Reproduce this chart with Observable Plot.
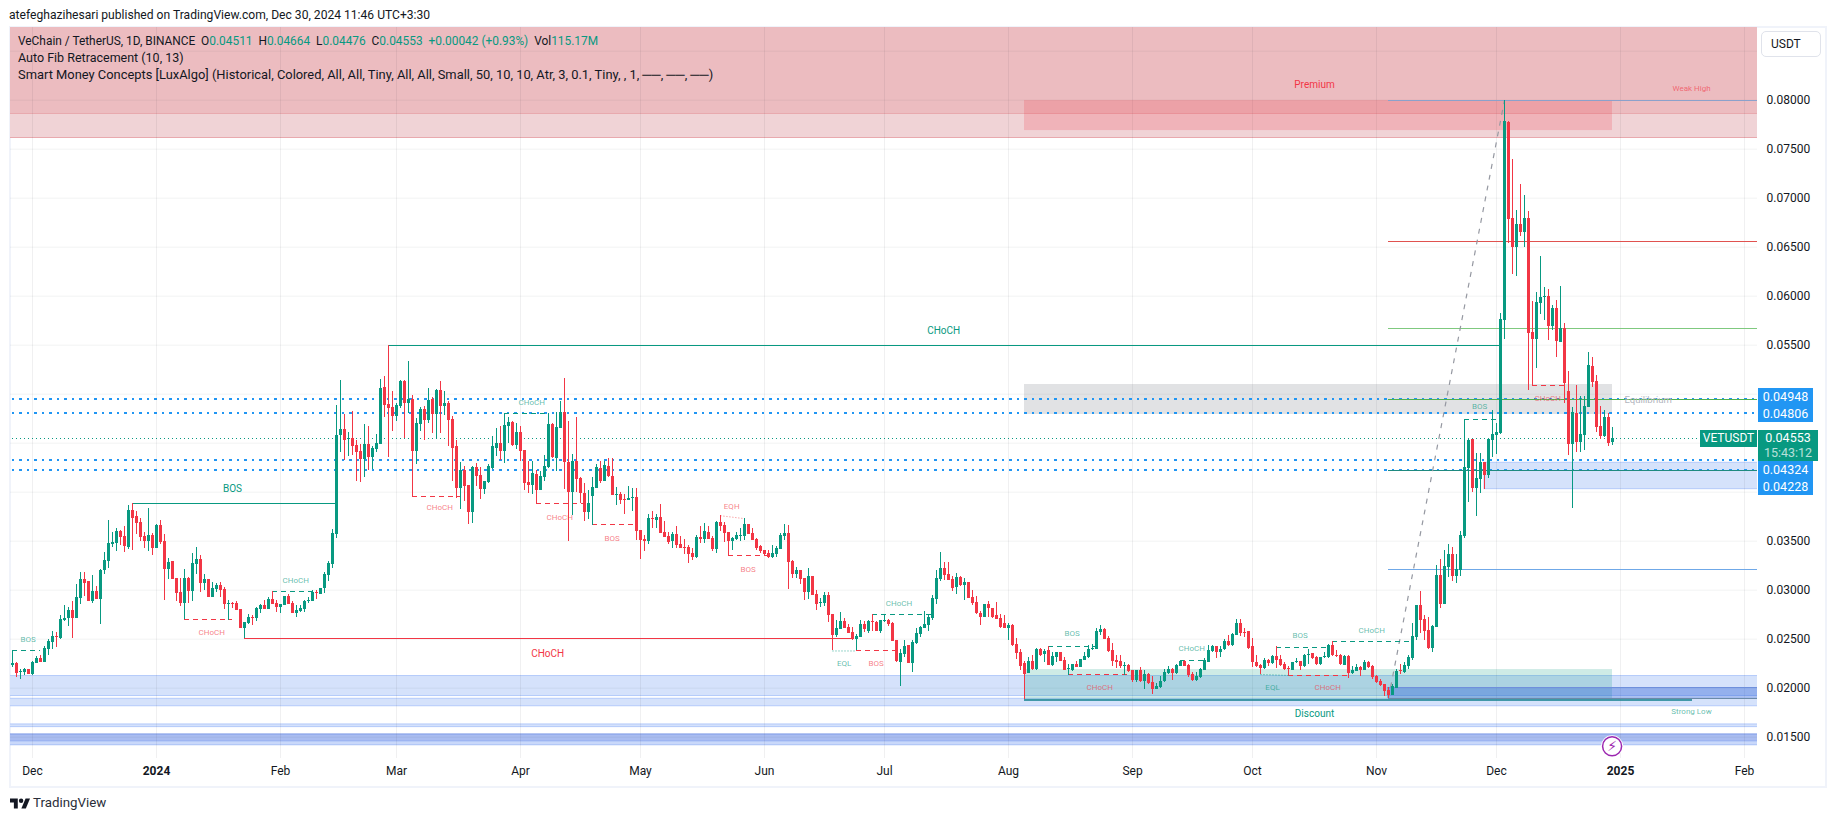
<!DOCTYPE html>
<html>
<head>
<meta charset="utf-8">
<script src="https://cdn.jsdelivr.net/npm/d3@7"></script>
<script src="https://cdn.jsdelivr.net/npm/@observablehq/plot@0.6"></script>
<style>
html,body{margin:0;padding:0;background:#fff;width:1835px;height:821px;overflow:hidden;font-family:Roboto,sans-serif;color:#131722}
#frame{position:absolute;left:9px;top:26px;width:1814px;height:758px;border:2px solid #f0f3fa;box-sizing:content-box}
#chart{position:absolute;left:0;top:0}
.t{position:absolute;white-space:pre;font-size:12.5px;line-height:16px}
.g{color:#089981}
.tag{position:absolute;left:1758px;color:#fff;font-size:12.5px;text-align:center;line-height:17px}
</style>
</head>
<body>
<div id="frame"></div>
<div id="chart"></div>
<div class="t" style="left:9px;top:7px;font-size:12.1px">atefeghazihesari published on TradingView.com, Dec 30, 2024 11:46 UTC+3:30</div>
<div class="t" style="left:18px;top:33px;font-size:11.9px">VeChain / TetherUS, 1D, BINANCE  O<span class="g">0.04511</span>  H<span class="g">0.04664</span>  L<span class="g">0.04476</span>  C<span class="g">0.04553</span>  <span class="g">+0.00042 (+0.93%)</span>  Vol<span class="g">115.17M</span></div>
<div class="t" style="left:18px;top:50px">Auto Fib Retracement (10, 13)</div>
<div class="t" style="left:18px;top:67px;font-size:12.9px">Smart Money Concepts [LuxAlgo] (Historical, Colored, All, All, Tiny, All, All, Small, 50, 10, 10, Atr, 3, 0.1, Tiny, , 1, ──, ──, ──)</div>
<div class="tag" style="top:388px;width:55px;height:34px;background:#2196f3">0.04948<br>0.04806</div>
<div class="tag" style="top:461px;width:55px;height:34px;background:#2196f3">0.04324<br>0.04228</div>
<div class="tag" style="top:430px;width:60px;height:31px;background:#089981;line-height:15px">0.04553<br><span style="opacity:.7">15:43:12</span></div>
<div class="tag" style="left:1700px;top:430px;width:57px;height:17px;background:#089981;font-size:12px">VETUSDT</div>
<div class="t" style="left:1761px;top:31px;width:58px;height:24px;border:1px solid #e0e3eb;border-radius:5px;line-height:24px;text-indent:9px;font-size:12px">USDT</div>
<svg style="position:absolute;left:10px;top:798px" width="20" height="11" viewBox="0 6 36 18"><path d="M14 6H0v7h7v11h7V6Z" fill="#131722"/><circle cx="20" cy="10" r="4" fill="#131722"/><path d="M28 6h8l-7.5 18h-8L28 6z" fill="#131722"/></svg>
<div class="t" style="left:33px;top:795px;font-size:13.3px;color:#2a2e39">TradingView</div>
<script>
// Daily candles of VETUSDT, in thousandths of a USDT, first bar 2023-11-26
const open = [
22.3,22.5,21.6,21.6,21.9,21.4,22.5,23.0,22.6,24.0,24.7,25.3,25.1,26.9,27.1,27.9,27.1,29.2,31.1,30.9,
28.8,29.9,29.1,32.0,32.9,34.7,34.8,36.0,35.5,34.4,38.1,37.5,36.9,35.5,35.0,35.6,34.3,36.6,35.0,32.1,
32.9,31.2,29.8,28.6,31.2,29.9,32.6,33.1,30.7,31.1,29.3,30.1,30.5,30.1,28.5,28.6,28.6,28.0,26.1,26.6,
27.2,27.1,28.0,28.4,28.0,29.1,28.6,28.2,28.4,29.4,28.6,27.6,27.8,28.0,28.8,28.8,29.8,29.6,30.2,31.5,
32.6,35.7,45.8,46.4,45.4,45.5,44.8,44.2,43.3,44.9,43.5,44.4,44.9,50.7,48.9,48.6,47.7,48.7,51.3,49.0,
49.5,44.2,46.9,48.4,47.3,49.5,47.9,50.4,48.7,49.1,47.4,44.7,40.4,42.2,40.7,37.9,42.5,41.7,40.3,41.0,
42.4,44.5,45.0,44.2,46.7,47.1,44.8,46.1,44.3,41.0,40.7,41.8,40.2,41.5,42.5,46.9,43.4,46.5,48.1,43.0,
40.0,43.1,41.4,39.9,37.9,39.6,40.4,42.4,41.1,42.6,41.6,39.7,39.8,39.3,39.2,39.4,39.5,36.1,35.2,35.0,
37.3,37.1,37.4,35.9,35.5,35.0,35.7,34.7,34.4,34.4,33.7,33.3,35.4,35.2,35.9,35.3,34.2,36.9,36.6,35.9,
35.0,35.2,35.5,35.5,36.7,35.8,35.2,34.5,34.0,33.7,33.3,33.6,34.2,35.5,35.8,32.9,31.6,32.0,31.2,29.8,
31.4,29.6,28.6,28.6,29.5,27.5,25.4,26.0,26.8,26.2,25.7,25.0,25.2,26.5,25.8,26.8,26.7,25.8,26.8,26.9,
26.6,24.9,22.6,23.4,24.4,22.5,24.6,25.5,26.1,26.4,27.1,29.1,31.1,32.2,31.6,31.1,30.3,31.3,30.5,30.8,
29.3,28.7,27.6,27.2,28.5,28.1,27.4,27.1,26.6,26.1,26.4,24.5,23.6,22.5,21.5,22.7,21.9,24.0,23.4,23.8,
22.3,23.1,23.6,22.8,21.9,21.8,22.4,22.1,22.8,23.1,24.0,24.0,25.7,26.0,25.1,23.8,22.8,22.7,22.2,22.3,
21.8,20.8,21.8,20.7,21.4,20.6,19.9,20.1,20.7,21.5,21.9,21.5,22.2,22.7,22.3,21.4,20.8,21.1,21.8,22.6,
23.7,24.3,23.6,23.9,24.8,24.4,25.4,26.6,25.7,25.8,24.3,22.6,22.3,22.0,22.8,22.5,23.2,22.9,22.4,22.0,
21.8,22.6,22.7,22.2,23.3,23.5,23.1,22.4,23.1,23.1,24.4,23.3,23.3,22.3,23.2,21.5,21.7,22.1,21.8,22.6,
22.2,21.2,20.7,20.4,19.8,19.3,20.0,21.8,21.6,22.2,23.0,25.2,28.4,27.0,25.9,24.1,26.2,31.5,28.5,32.3,
33.6,31.4,32.0,35.5,42.4,45.4,40.4,41.3,43.0,41.7,45.3,45.8,46.0,57.5,77.7,67.9,65.0,67.3,66.5,67.9,
56.3,55.6,59.3,59.9,60.0,56.9,58.7,55.3,56.7,50.3,44.9,48.0,45.1,45.8,48.6,52.8,51.3,46.7,45.7,47.6,
45.11];
const close = [
22.5,21.5,21.7,21.9,21.4,22.6,23.0,22.6,24.1,24.8,25.3,25.2,27.0,27.1,27.9,27.1,29.3,31.1,30.7,28.8,
29.9,29.1,32.0,33.0,34.8,34.9,36.0,35.4,34.5,38.1,37.3,36.8,35.4,35.0,35.6,34.3,36.6,34.9,32.1,32.8,
31.1,29.7,28.6,31.2,29.9,32.7,33.1,30.7,31.1,29.3,30.2,30.5,30.0,28.5,28.6,28.5,27.9,26.1,26.7,27.2,
27.1,28.1,28.4,28.0,29.1,28.5,28.2,28.5,29.4,28.5,27.6,27.9,28.1,28.8,28.9,29.8,29.7,30.2,31.6,32.7,
35.8,45.8,46.4,45.3,45.5,44.7,44.1,43.3,44.9,43.5,44.5,45.0,50.6,48.8,48.5,47.7,48.8,51.3,49.0,49.5,
44.2,47.0,48.4,47.3,49.4,47.9,50.4,48.7,49.1,47.3,44.5,40.4,42.2,40.6,37.9,42.5,41.6,40.3,41.1,42.6,
44.7,45.0,44.2,46.8,47.1,44.8,46.1,44.2,40.9,40.7,41.9,40.2,41.6,42.6,46.9,43.5,46.6,48.1,43.0,40.0,
43.1,41.3,39.9,37.9,38.8,40.5,42.5,41.1,42.7,41.6,39.7,39.8,39.2,39.2,39.4,39.5,36.0,35.1,35.0,37.3,
37.2,37.4,35.8,35.4,34.9,35.7,34.6,34.3,34.3,33.6,33.3,35.4,35.2,36.0,35.2,34.2,36.9,36.5,35.8,35.0,
35.3,35.6,35.6,36.7,35.7,35.1,34.3,33.9,33.6,33.3,33.7,34.3,35.6,35.8,32.8,31.6,32.0,31.1,29.8,31.4,
29.5,28.5,28.7,29.5,27.4,25.4,26.1,26.8,26.1,25.6,25.0,25.3,26.5,26.0,26.8,26.7,25.8,26.9,26.9,26.5,
24.8,22.7,23.5,24.3,22.5,24.7,25.6,26.2,26.5,27.2,29.2,31.2,32.2,31.5,31.0,30.2,31.3,30.5,30.8,29.2,
28.6,27.6,27.2,28.5,28.1,27.2,27.0,26.2,26.1,26.4,24.4,23.5,22.2,21.4,22.7,21.9,24.0,23.3,23.7,22.3,
23.2,23.6,22.7,21.8,22.0,22.4,22.1,22.9,23.2,24.0,24.1,25.8,26.0,25.0,23.7,22.7,22.6,22.2,22.3,21.7,
20.8,21.8,20.7,21.4,20.5,19.9,20.2,20.7,21.6,21.9,21.5,22.3,22.7,22.2,21.3,20.8,21.2,21.9,22.8,23.8,
24.3,23.6,23.9,24.8,24.4,25.5,26.6,25.6,25.6,24.1,22.6,22.2,22.0,22.8,22.5,23.2,22.8,22.3,21.9,21.9,
22.6,22.7,22.2,23.3,23.4,23.0,22.4,23.1,23.2,24.4,23.3,23.2,22.4,23.2,21.5,21.8,22.1,21.8,22.6,22.1,
21.1,20.6,20.3,19.7,19.3,20.2,21.7,21.7,22.3,23.1,25.3,28.4,26.9,25.8,24.1,26.3,31.5,28.5,32.4,33.6,
31.4,32.1,35.6,42.5,45.3,40.4,41.4,43.0,41.7,45.4,45.9,46.1,57.6,77.8,67.8,65.0,67.3,66.5,67.9,56.2,
55.6,59.4,59.9,60.0,56.9,58.7,55.4,56.7,51.1,44.9,48.1,45.1,45.9,48.7,52.9,51.2,46.6,45.7,47.6,45.0,
45.53];
const high = [
23.8,22.6,21.9,22.0,21.9,22.7,23.2,23.3,24.3,25.0,25.8,25.7,27.4,28.4,28.2,28.8,30.6,31.8,31.8,30.9,
31.5,30.4,32.1,33.8,37.1,35.9,36.3,36.1,36.5,38.6,38.8,38.0,37.3,35.9,38.3,35.8,36.7,37.1,35.7,33.2,
32.9,31.2,31.2,32.1,31.3,33.7,34.4,33.5,31.6,31.1,30.8,30.7,30.8,30.3,28.9,28.7,28.8,28.0,26.7,27.5,
27.4,28.2,28.5,29.0,29.3,29.9,28.9,28.5,29.4,29.6,28.8,28.4,28.4,28.9,29.3,30.0,30.0,30.2,31.8,32.9,
36.2,48.8,51.4,47.9,46.1,48.2,45.3,44.9,46.9,46.7,44.7,45.9,51.5,51.8,55.0,50.3,49.0,51.4,51.4,53.3,
49.9,47.5,48.6,48.7,50.6,49.7,50.5,51.3,50.3,49.3,47.7,45.3,43.0,42.6,40.7,42.6,42.9,42.5,41.1,42.8,
45.7,46.5,46.7,48.0,47.6,47.2,47.0,46.7,44.3,43.1,43.1,42.2,42.1,43.7,48.0,47.0,48.1,49.3,51.6,47.2,
43.8,47.6,41.5,40.9,40.2,41.5,42.8,43.1,43.1,43.4,43.4,40.5,40.0,39.8,40.6,40.4,40.4,36.1,35.6,37.7,
38.0,37.7,38.7,37.0,35.9,35.9,36.5,35.5,35.2,34.6,34.3,35.6,36.5,36.8,36.5,35.5,37.0,37.6,36.9,35.9,
35.4,35.9,36.3,37.3,36.7,36.3,35.3,34.6,34.0,34.1,34.6,34.5,35.8,36.7,36.6,33.0,32.3,32.0,31.2,32.2,
31.4,30.0,29.2,29.8,29.8,27.5,26.9,27.7,27.1,26.5,26.2,25.5,26.9,26.8,26.9,27.5,26.8,26.9,27.5,27.0,
26.7,24.9,23.9,24.9,24.4,24.9,26.1,26.3,27.8,27.4,29.5,32.0,33.8,32.8,32.8,31.4,31.7,31.4,31.2,30.8,
30.0,29.4,27.8,28.5,28.8,28.1,28.7,27.5,27.4,26.6,26.5,25.1,23.9,22.7,23.1,23.3,24.1,24.1,24.0,24.3,
23.6,23.6,23.6,23.1,22.4,22.4,22.7,22.9,23.6,24.4,24.5,26.1,26.4,26.1,25.3,24.6,23.3,23.3,22.6,22.4,
21.8,21.8,22.1,21.8,21.5,21.2,20.5,21.2,21.9,22.2,22.0,22.4,22.8,22.8,22.4,21.6,21.6,22.0,23.0,24.4,
24.4,24.3,24.3,25.0,25.4,25.6,27.0,27.0,26.1,25.8,25.1,23.3,22.4,23.0,22.9,23.3,24.3,23.3,22.6,22.2,
22.6,23.0,22.7,23.4,23.9,23.5,23.2,23.1,23.6,24.5,24.8,23.8,23.4,23.3,23.3,22.2,22.4,22.2,22.8,22.7,
22.3,21.3,20.9,20.4,20.1,20.4,21.9,22.4,22.6,23.3,26.6,28.4,29.9,27.4,27.2,26.4,32.5,33.1,34.0,34.7,
34.4,33.6,36.0,47.4,45.4,45.4,43.9,43.9,43.0,45.5,48.3,47.0,58.2,80.0,77.8,73.9,68.7,71.4,70.3,68.6,
59.5,60.4,64.0,60.9,60.7,59.1,59.6,61.0,57.2,52.3,48.6,50.9,49.8,49.8,54.3,53.7,51.9,48.7,48.3,48.0,
46.64];
const low = [
22.1,21.1,20.9,21.3,21.4,21.3,22.5,22.6,22.6,23.3,23.9,24.2,25.0,26.8,26.3,25.1,27.1,28.5,29.4,28.8,
28.6,29.1,26.5,31.6,32.2,34.4,33.9,34.6,33.8,34.2,34.0,35.7,35.0,34.3,33.9,33.5,34.3,34.7,29.0,31.1,
31.1,28.8,28.3,27.0,28.6,28.8,31.6,29.8,30.0,29.3,29.3,29.8,29.3,28.0,26.9,28.1,27.9,26.1,25.1,26.5,
26.4,26.8,27.6,28.0,28.0,28.5,27.7,27.6,28.4,28.5,27.6,27.2,27.7,27.7,28.6,28.8,29.1,29.6,29.7,30.9,
32.2,35.3,44.0,43.2,43.6,43.7,41.1,41.0,41.5,42.2,42.3,44.1,44.9,47.6,43.5,46.2,47.2,48.5,45.5,48.0,
39.6,42.8,46.2,45.3,47.0,46.0,45.4,46.0,47.8,44.7,41.1,39.4,38.2,39.0,36.7,36.8,40.6,39.3,39.8,40.9,
42.3,43.6,43.2,42.9,45.0,44.7,44.4,43.1,40.2,39.9,39.8,38.8,40.2,41.1,42.4,43.4,42.1,46.5,40.3,35.0,
37.6,40.0,38.8,37.0,37.2,36.6,40.4,40.9,41.1,41.5,39.7,38.6,38.7,37.7,39.2,38.0,35.1,33.1,33.9,34.7,
36.3,36.3,35.8,35.4,34.7,34.3,34.3,34.3,33.6,32.7,33.0,33.2,34.8,34.8,35.2,33.9,33.7,36.0,34.9,33.4,
34.1,35.1,35.0,35.1,35.7,35.1,34.1,33.7,33.4,33.2,33.2,33.3,34.2,35.1,30.1,31.2,31.2,30.6,29.0,29.1,
29.5,27.9,28.2,28.3,26.7,23.8,25.2,26.0,26.1,25.6,24.9,23.8,25.2,25.7,25.6,25.8,25.8,25.6,26.7,26.3,
24.8,22.6,20.2,23.1,22.5,21.6,24.5,25.2,26.1,25.8,26.9,28.5,30.9,31.0,31.0,29.9,29.6,30.4,29.0,29.2,
28.4,27.5,26.4,27.2,27.2,27.1,27.0,26.1,26.1,24.9,24.3,22.9,21.8,18.8,21.5,21.8,21.8,23.2,22.6,22.3,
22.2,22.6,22.7,21.8,21.3,21.7,22.1,22.1,22.8,23.0,23.8,24.0,25.4,25.0,23.6,22.2,22.0,22.0,21.3,21.6,
20.6,20.6,20.6,19.9,20.4,19.4,19.9,20.0,20.6,21.4,20.8,21.4,22.2,22.2,21.1,20.7,20.7,21.0,21.8,22.6,
23.6,23.0,23.1,23.8,24.3,24.3,25.4,25.3,25.2,24.0,22.1,22.1,21.4,21.9,22.2,22.4,22.0,22.2,21.8,21.3,
21.8,22.5,21.8,22.1,22.4,22.9,22.3,22.3,23.0,23.0,23.2,23.1,22.3,22.3,21.0,21.4,21.7,21.2,21.8,22.0,
20.9,20.5,20.2,19.2,19.0,19.3,20.0,21.4,21.5,21.9,22.8,24.9,25.6,24.9,23.9,23.6,26.2,28.1,28.5,31.3,
30.9,30.7,31.4,35.3,38.9,40.0,37.5,39.9,40.3,41.4,43.5,43.8,45.9,55.6,65.4,62.2,62.0,66.1,65.0,50.4,
50.9,52.6,58.1,57.5,55.5,56.5,53.7,55.3,49.0,43.7,38.3,44.1,44.0,44.3,48.6,50.7,46.1,45.4,45.6,44.7,
44.76];

// Axis ticks
const monthTicks = ["2023-12-01","2024-02-01","2024-03-01","2024-04-01","2024-05-01","2024-06-01","2024-07-01","2024-08-01","2024-09-01","2024-10-01","2024-11-01","2024-12-01","2025-02-01"];
const monthLabels = ["Dec","Feb","Mar","Apr","May","Jun","Jul","Aug","Sep","Oct","Nov","Dec","Feb"];
const yearTicks = ["2024-01-01","2025-01-01"];
const yearLabels = ["2024","2025"];
const priceTicks = [15,20,25,30,35,55,60,65,70,75,80];
const gridPrices = [15,20,25,30,35,40,45,50,55,60,65,70,75,80,85];

// Structure lines: [first bar, last bar, price]
const greenSolid = [[30,81,38.8],[94,372,55.0]];
const redSolid = [[58,210,25.1]];
const greenDashed = [[0,7,23.8],[65,75,29.9],[123,134,48.0],[215,230,27.5],[259,271,24.3],[292,298,22.8],[316,329,24.2],[330,350,24.8],[363,372,47.4]];
const redDashed = [[43,55,27.0],[100,112,39.6],[131,143,38.8],[145,156,36.7],[179,189,33.5],[211,221,23.8],[264,279,21.4],[319,334,21.3],[380,388,50.85]];
const greenDotted = [[205,211,23.8,23.8],[312,319,21.4,21.3]];
const redDotted = [[177,183,37.6,37.3]];

// Levels
const alertLevels = [49.48,48.06,43.24,42.28];
const lastPrice = 45.53;
const fibLevels = [80.0,65.55,56.67,49.49,42.25,32.08,18.9];
const fibColors = ["#8ba1cb","#e0524f","#7fc97f","#4caf50","#1f8a80","#6fa8e8","#6b8aa8"];
const fibStartBar = 344, rightBar = 437, leftBar = -2;
const fibLeg = [[344,19.0],[373,80.0]];

// Text labels: [text, bar, price]
const tinyGreen = [["BOS",3.9,25.0],["CHoCH",70.8,31.0],["CHoCH",129.8,49.2],["EQL",207.9,22.55],["CHoCH",221.6,28.7],["BOS",264.9,25.6],["CHoCH",294.8,24.1],["EQL",315,20.1],["BOS",321.9,25.4],["CHoCH",339.8,25.9],["BOS",366.8,48.7],["Strong Low",419.75,17.65]];
const tinyRed = [["CHoCH",49.8,25.7],["CHoCH",106.8,38.4],["CHoCH",136.8,37.4],["BOS",149.9,35.3],["EQH",179.8,38.5],["BOS",183.9,32.1],["BOS",215.9,22.55],["CHoCH",271.8,20.1],["CHoCH",328.8,20.1],["CHoCH",383.8,49.6],["Weak High",419.75,81.2]];
const bigGreen = [["BOS",55,40.3],["CHoCH",232.8,56.5],["Discount",325.5,17.35]];
const bigRed = [["CHoCH",133.8,23.5],["Premium",325.5,81.6]];
const equilibrium = [["Equilibrium",408.9,49.4]];

// Zones: [first bar, last bar, top price, bottom price]
const premiumOuter = [[-2,437,90,78.6]];
const premiumInner = [[-2,437,78.6,76.15]];
const liquidityBands = [[-2,437,21.24,19.2],[-2,437,18.92,18.16],[-2,437,16.3,16.03]];
const deepBandUpper = [[-2,437,15.28,14.56]];
const deepBandLower = [[-2,437,14.56,14.18]];
const premiumBox = [[253,400,79.97,76.9]];
const equilibriumBox = [[253,400,50.99,47.93]];
const discountBox = [[253,400,21.9,18.82]];
const gapBox = [[368,437,43.0,40.31]];
const darkDiscount = [[343.75,437,20.04,18.95]];

const day = 864e5, t0 = Date.UTC(2023,10,26);
const barDate = i => new Date(t0 + i*day);
const P = m => m/1000;
const utc = s => new Date(s+"T00:00:00Z");

const candles = open.map((o,i)=>({date:barDate(i),open:P(o),close:P(close[i]),high:P(high[i]),low:P(low[i]),up:close[i]>=o}));
const GREEN="#089981", RED="#f23645";
const col = d => d.up?GREEN:RED;
const crisp = {shapeRendering:"crispEdges"};

const zone = (rows,opts) => Plot.rect(rows,{x1:d=>barDate(d[0]),x2:d=>barDate(d[1]),y1:d=>P(d[2]),y2:d=>P(d[3]),clip:"frame",...opts});
const seg = (rows,opts) => Plot.ruleY(rows,{x1:d=>barDate(d[0]),x2:d=>barDate(d[1]),y:d=>P(d[2]),...crisp,...opts});
const lab = (rows,opts) => Plot.text(rows,{x:d=>barDate(d[1]),y:d=>P(d[2]),text:d=>d[0],textAnchor:"middle",...opts});
const sloped = (rows,opts) => Plot.link(rows,{x1:d=>barDate(d[0]),x2:d=>barDate(d[1]),y1:d=>P(d[2]),y2:d=>P(d[3]),markerEnd:"none",...opts});
const hLevel = (vals,opts) => Plot.ruleY(vals,{y:d=>P(d),x1:barDate(leftBar),x2:barDate(rightBar),clip:"frame",...crisp,...opts});

const chart = Plot.plot({
  width:1835,height:821,marginLeft:10,marginRight:78,marginTop:27,marginBottom:63,
  style:{background:"transparent",fontFamily:"Roboto,sans-serif",overflow:"visible"},
  x:{type:"utc",domain:[new Date(t0-0.5*day),new Date(t0+436.25*day)],range:[10,1757],axis:null},
  y:{domain:[0.012827,0.087417],range:[758,27],axis:null},
  marks:[
    zone(premiumOuter,{fill:"#ecbcc0"}),
    zone(premiumInner,{fill:"#f0d3d6"}),
    hLevel([76.15,78.6],{stroke:"#e8a9ae"}),
    zone(liquidityBands,{fill:"#d5e2fb",stroke:"#b3cafa",strokeWidth:1}),
    zone(deepBandUpper,{fill:"#a9bcf0",stroke:"#7c98e6",strokeWidth:1}),
    zone(deepBandLower,{fill:"#c9d8fa",stroke:"#a9c0f6",strokeWidth:1}),
    zone(gapBox,{fill:"#d5e2fb",stroke:"#b3cafa",strokeWidth:1}),
    Plot.gridX(monthTicks.concat(yearTicks).map(utc),{stroke:"#2a2e39",strokeOpacity:0.07}),
    Plot.gridY(gridPrices.map(P),{stroke:"#2a2e39",strokeOpacity:0.06}),
    zone(premiumBox,{fill:RED,fillOpacity:0.2}),
    zone(equilibriumBox,{fill:"#787b86",fillOpacity:0.22}),
    zone(discountBox,{fill:GREEN,fillOpacity:0.2}),
    zone(darkDiscount,{fill:"#2a5fd8",fillOpacity:0.38}),
    Plot.ruleY([P(20.04)],{x1:barDate(343.75),x2:barDate(rightBar),stroke:"#6f90dc",clip:"frame",...crisp}),
    hLevel(alertLevels,{stroke:"#2196f3",strokeWidth:2,strokeDasharray:"2.5,5"}),
    Plot.ruleY([P(lastPrice)],{x1:barDate(leftBar),x2:barDate(422),stroke:GREEN,strokeDasharray:"1,3",clip:"frame",...crisp}),
    Plot.ruleY(fibLevels.map((v,i)=>({v,c:fibColors[i]})),{y:d=>P(d.v),x1:barDate(fibStartBar),x2:barDate(rightBar),stroke:d=>d.c,clip:"frame",...crisp}),
    Plot.ruleY([P(18.8)],{x1:barDate(253),x2:barDate(420),stroke:"#0f7f8c",strokeWidth:1.5}),
    Plot.link([fibLeg],{x1:d=>barDate(d[0][0]),y1:d=>P(d[0][1]),x2:d=>barDate(d[1][0]),y2:d=>P(d[1][1]),stroke:"#9598a1",strokeWidth:1.2,strokeDasharray:"5,6"}),
    seg(greenSolid,{stroke:GREEN}),
    seg(redSolid,{stroke:RED}),
    seg(greenDashed,{stroke:GREEN,strokeDasharray:"5,4"}),
    seg(redDashed,{stroke:RED,strokeDasharray:"5,4"}),
    sloped(greenDotted,{stroke:GREEN,strokeDasharray:"1,2",strokeOpacity:.8}),
    sloped(redDotted,{stroke:"#f77c80",strokeDasharray:"1,2"}),
    Plot.ruleX(candles,{x:"date",y1:"low",y2:"high",stroke:col,strokeWidth:1,...crisp}),
    Plot.ruleX(candles,{x:"date",y1:"open",y2:"close",stroke:col,strokeWidth:3,...crisp}),
    lab(tinyGreen,{fill:GREEN,fillOpacity:0.65,fontSize:8}),
    lab(tinyRed,{fill:RED,fillOpacity:0.65,fontSize:8}),
    lab(bigGreen,{fill:GREEN,fontSize:10}),
    lab(bigRed,{fill:RED,fontSize:10}),
    lab(equilibrium,{fill:"#b2b5be",fontSize:9.5}),
    Plot.dot([[399.9,14.08]],{x:d=>barDate(d[0]),y:d=>P(d[1]),r:11,fill:"#fff"}),
    Plot.dot([[399.9,14.08]],{x:d=>barDate(d[0]),y:d=>P(d[1]),r:9.5,fill:"#fff",stroke:"#9c27b0",strokeWidth:1.5}),
    Plot.text([[399.9,14.08]],{x:d=>barDate(d[0]),y:d=>P(d[1]),text:()=>"\u26A1\uFE0E",fill:"#9c27b0",fontSize:14,fontFamily:"DejaVu Sans"}),
    Plot.axisX(monthTicks.map(utc),{anchor:"bottom",tickSize:0,tickPadding:8,label:null,fontSize:12,fill:"#131722",tickFormat:d=>monthLabels[monthTicks.indexOf(d.toISOString().slice(0,10))]}),
    Plot.axisX(yearTicks.map(utc),{anchor:"bottom",tickSize:0,tickPadding:8,label:null,fontSize:12,fontWeight:"bold",fill:"#131722",tickFormat:d=>yearLabels[yearTicks.indexOf(d.toISOString().slice(0,10))]}),
    Plot.axisY(priceTicks.map(P),{anchor:"right",tickSize:0,tickPadding:9,label:null,fontSize:12,fill:"#131722",tickFormat:d=>d3.format(".5f")(d)})
  ]
});
document.getElementById("chart").appendChild(chart);
</script>
</body>
</html>
